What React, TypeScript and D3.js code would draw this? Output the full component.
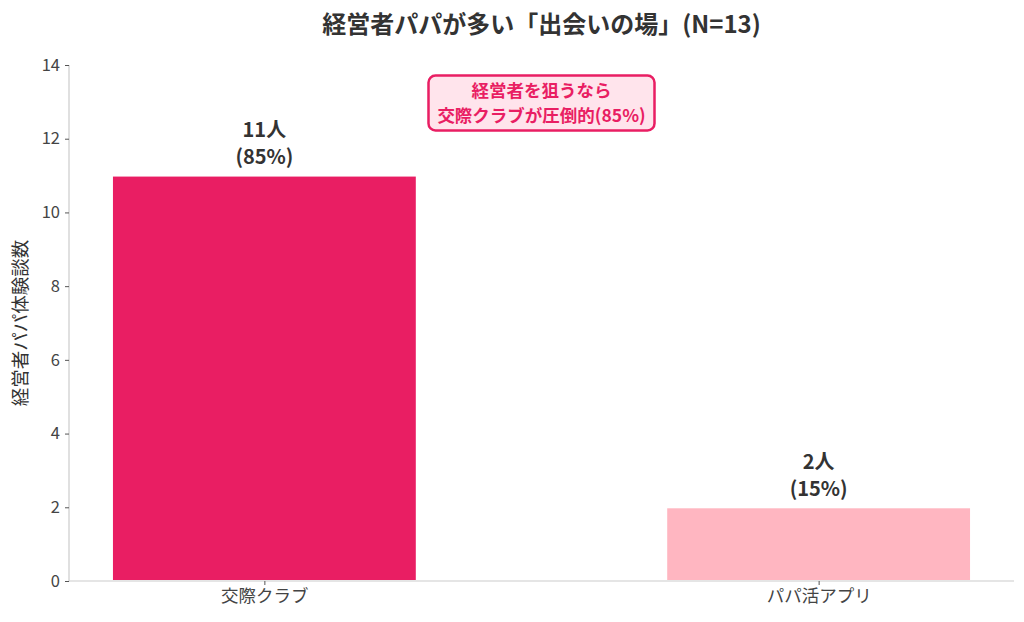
import { useEffect, useRef } from 'react'
import * as d3 from 'd3'

const categories = ['交際クラブ', 'パパ活アプリ']
const counts = [11, 2]
const shares = ['85%', '15%']
const barColors = ['#E91E63', '#FFB6C1']
const yTicks = [0, 2, 4, 6, 8, 10, 12, 14]

const title = '経営者パパが多い「出会いの場」(N=13)'
const yLabel = '経営者パパ体験談数'
const noteLines = ['経営者を狙うなら', '交際クラブが圧倒的(85%)']

const width = 1024
const height = 622
const font = '"Noto Sans CJK JP", "Noto Sans", sans-serif'

export default function App() {
  const svgRef = useRef<SVGSVGElement>(null)

  useEffect(() => {
    if (!svgRef.current) return
    const svg = d3.select(svgRef.current)
    svg.selectAll('*').remove()

    const margin = { top: 65, right: 10, bottom: 41, left: 69 }
    const innerWidth = width - margin.left - margin.right
    const innerHeight = height - margin.top - margin.bottom

    const g = svg
      .append('g')
      .attr('transform', `translate(${margin.left},${margin.top})`)

    // linear x like matplotlib: bars at 0 and 1, width 0.55
    const barW = 0.55
    const x = d3.scaleLinear().domain([-0.3525, 1.3525]).range([0, innerWidth])
    const y = d3.scaleLinear().domain([0, 14]).range([innerHeight, 0])

    // Bars
    g.selectAll('.bar')
      .data(counts)
      .enter()
      .append('rect')
      .attr('x', (_, i) => x(i - barW / 2))
      .attr('width', (_, i) => x(i + barW / 2) - x(i - barW / 2))
      .attr('y', (d) => y(d))
      .attr('height', (d) => innerHeight - y(d))
      .attr('fill', (_, i) => barColors[i])
      .attr('stroke', '#fff')
      .attr('stroke-width', 2)

    // Spines
    g.append('line')
      .attr('x1', 0).attr('x2', 0).attr('y1', 0).attr('y2', innerHeight)
      .attr('stroke', '#cccccc').attr('stroke-width', 1.2)
    g.append('line')
      .attr('x1', 0).attr('x2', innerWidth).attr('y1', innerHeight).attr('y2', innerHeight)
      .attr('stroke', '#cccccc').attr('stroke-width', 1.2)

    // Y axis
    const yAxis = g.append('g').call(
      d3.axisLeft(y).tickValues(yTicks).tickSize(4).tickPadding(5).tickFormat(d3.format('d'))
    )
    yAxis.select('.domain').remove()
    yAxis.selectAll('line').attr('stroke', '#555')
    yAxis.selectAll('text')
      .attr('fill', '#444')
      .attr('font-size', '16.5px')
      .attr('font-family', font)

    // X axis
    const xAxis = g
      .append('g')
      .attr('transform', `translate(0,${innerHeight})`)
      .call(
        d3.axisBottom(x)
          .tickValues(categories.map((_, i) => i))
          .tickSize(4)
          .tickPadding(5)
          .tickFormat((d) => categories[Number(d)])
      )
    xAxis.select('.domain').remove()
    xAxis.selectAll('line').attr('stroke', '#555')
    xAxis.selectAll('text')
      .attr('fill', '#444')
      .attr('font-size', '17.5px')
      .attr('font-family', font)

    // Value labels (two lines: count, share)
    counts.forEach((c, i) => {
      const cx = x(i)
      const top = y(c)
      g.append('text')
        .attr('x', cx).attr('y', top - 38.5)
        .attr('text-anchor', 'middle')
        .attr('fill', '#333')
        .attr('font-size', '20px').attr('font-weight', 700)
        .attr('font-family', font)
        .text(`${c}人`)
      g.append('text')
        .attr('x', cx).attr('y', top - 11.5)
        .attr('text-anchor', 'middle')
        .attr('fill', '#333')
        .attr('font-size', '20px').attr('font-weight', 700)
        .attr('font-family', font)
        .text(`(${shares[i]})`)
    })

    // Annotation box
    const boxCx = innerWidth / 2
    g.append('rect')
      .attr('x', boxCx - 113).attr('y', 10.5)
      .attr('width', 226).attr('height', 55)
      .attr('rx', 7)
      .attr('fill', '#FFE4EC')
      .attr('stroke', '#E91E63')
      .attr('stroke-width', 2.5)
    noteLines.forEach((t, i) => {
      g.append('text')
        .attr('x', boxCx).attr('y', 32 + i * 25)
        .attr('text-anchor', 'middle')
        .attr('fill', '#E91E63')
        .attr('font-size', '17.5px').attr('font-weight', 700)
        .attr('font-family', font)
        .text(t)
    })

    // Title
    svg.append('text')
      .attr('x', margin.left + innerWidth / 2).attr('y', 33)
      .attr('text-anchor', 'middle')
      .attr('fill', '#333')
      .attr('font-size', '24px').attr('font-weight', 700)
      .attr('font-family', font)
      .text(title)

    // Y label
    svg.append('text')
      .attr('transform', `translate(27,${margin.top + innerHeight / 2}) rotate(-90)`)
      .attr('text-anchor', 'middle')
      .attr('fill', '#333')
      .attr('font-size', '18.5px')
      .attr('font-family', font)
      .text(yLabel)
  }, [])

  return (
    <svg
      ref={svgRef}
      width={width}
      height={height}
      style={{ display: 'block', position: 'absolute', left: 0, top: 0, background: '#fff' }}
    />
  )
}
